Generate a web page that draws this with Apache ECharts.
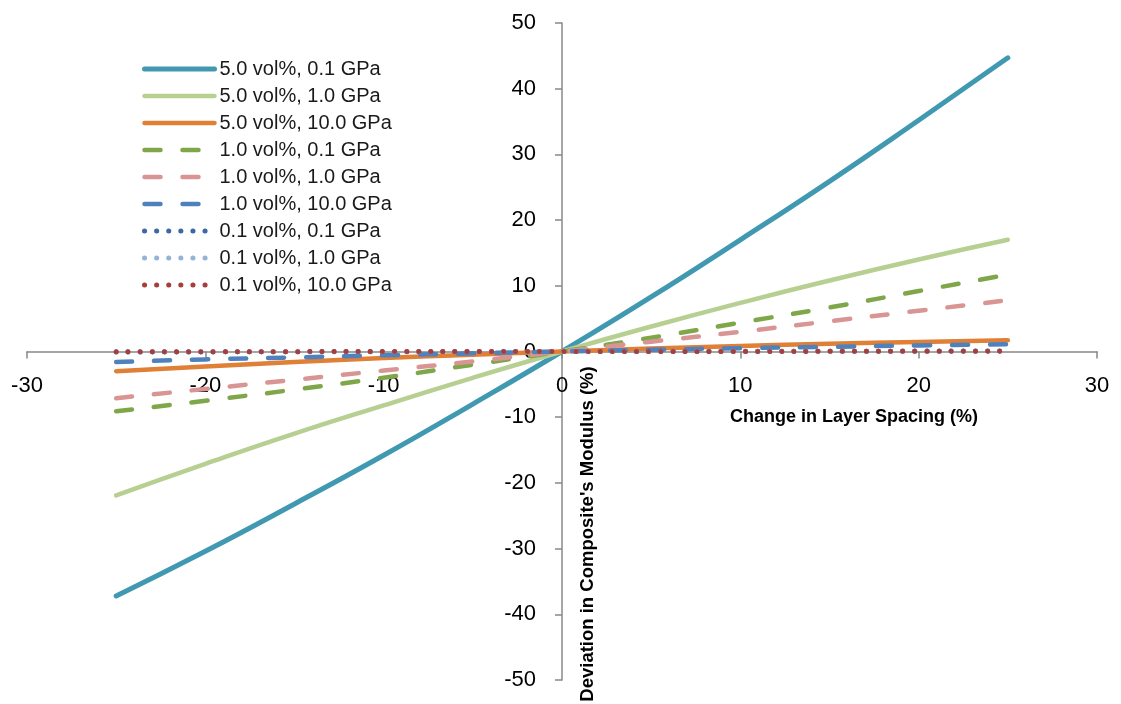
<!DOCTYPE html>
<html>
<head>
<meta charset="utf-8">
<script src="https://cdn.jsdelivr.net/npm/echarts@6/dist/echarts.min.js"></script>
<style>
html,body{margin:0;padding:0;background:#fff;}
#chart{width:1121px;height:704px;}
</style>
</head>
<body>
<div id="chart"></div>
<script>
// Data
const xValues = [-25, -20, -15, -10, -5, 0, 5, 10, 15, 20, 25];
const seriesNames = [
  '5.0 vol%, 0.1 GPa', '5.0 vol%, 1.0 GPa', '5.0 vol%, 10.0 GPa',
  '1.0 vol%, 0.1 GPa', '1.0 vol%, 1.0 GPa', '1.0 vol%, 10.0 GPa',
  '0.1 vol%, 0.1 GPa', '0.1 vol%, 1.0 GPa', '0.1 vol%, 10.0 GPa'
];
const v5_01  = [-37.2, -30.4, -23.2, -15.8, -8.0, 0, 8.3, 17.0, 25.9, 35.2, 44.7];
const v5_1   = [-21.9, -17.1, -12.5, -8.2, -4.0, 0, 3.8, 7.4, 10.8, 14.0, 17.0];
const v5_10  = [-3.0, -2.3, -1.6, -1.0, -0.5, 0, 0.44, 0.84, 1.18, 1.46, 1.7];
const v1_01  = [-9.1, -7.5, -5.8, -4.0, -2.0, 0, 2.1, 4.4, 6.7, 9.2, 11.7];
const v1_1   = [-7.1, -5.7, -4.3, -2.9, -1.5, 0, 1.5, 3.0, 4.6, 6.2, 7.8];
const v1_10  = [-1.6, -1.2, -0.9, -0.58, -0.28, 0, 0.26, 0.5, 0.72, 0.92, 1.1];
const v01_01 = [-0.08, -0.06, -0.05, -0.03, -0.02, 0, 0.02, 0.03, 0.05, 0.06, 0.08];
const v01_1  = [-0.06, -0.05, -0.04, -0.03, -0.01, 0, 0.01, 0.03, 0.04, 0.05, 0.06];
const v01_10 = [-0.04, -0.03, -0.02, -0.01, -0.01, 0, 0.01, 0.01, 0.02, 0.02, 0.03];
const xTicks = [-30, -20, -10, 0, 10, 20, 30];
const yTicks = [-50, -40, -30, -20, -10, 0, 10, 20, 30, 40, 50];
const xTitle = 'Change in Layer Spacing (%)';
const yTitle = "Deviation in Composite's Modulus (%)";

const allValues = [v5_01, v5_1, v5_10, v1_01, v1_1, v1_10, v01_01, v01_1, v01_10];
const colors = ['#4099B1', '#B8CF92', '#E07F36', '#80A64A', '#D89594', '#4F81BD', '#3C68A8', '#95B3D7', '#A63F3C'];
const styles = [
  {type: 'solid', width: 5},
  {type: 'solid', width: 4.5},
  {type: 'solid', width: 4.5},
  {type: [16, 22], width: 4.5},
  {type: [16, 22], width: 4.5},
  {type: [16, 22], width: 4.5},
  {type: [0.1, 12], width: 5},
  {type: [0.1, 12], width: 5},
  {type: [0.1, 12], width: 5}
];

const W = 1121, H = 704;
const gridL = 27, gridR = 24, gridT = 23, gridB = 24;
const plotW = W - gridL - gridR, plotH = H - gridT - gridB;
// axes cross at zero: shift the axes from the grid edge to the middle
const xAxisOffset = -plotH * (0 - yTicks[0]) / (yTicks[yTicks.length - 1] - yTicks[0]);
const yAxisOffset = -plotW * (0 - xTicks[0]) / (xTicks[xTicks.length - 1] - xTicks[0]);

const series = seriesNames.map((name, i) => ({
  name: name,
  type: 'line',
  data: xValues.map((x, j) => [x, allValues[i][j]]),
  smooth: true,
  symbol: 'none',
  showSymbol: false,
  lineStyle: {color: colors[i], width: styles[i].width, type: styles[i].type, cap: 'round', join: 'round'},
  itemStyle: {color: colors[i]},
  emphasis: {disabled: true},
  animation: false
}));

const chart = echarts.init(document.getElementById('chart'), null, {renderer: 'canvas'});
chart.setOption({
  backgroundColor: '#ffffff',
  animation: false,
  grid: {left: gridL, right: gridR, top: gridT, bottom: gridB, containLabel: false, outerBoundsMode: 'none'},
  legend: {
    orient: 'vertical',
    left: 142,
    top: 59,
    padding: 0,
    itemWidth: 70,
    itemHeight: 20,
    itemGap: 7,
    itemStyle: {opacity: 0},
    lineStyle: {width: 'inherit', type: 'inherit', cap: 'round'},
    textStyle: {fontFamily: 'Liberation Sans', fontSize: 20, color: '#1a1a1a', lineHeight: 20},
    data: seriesNames
  },
  xAxis: {
    type: 'value',
    position: 'bottom',
    offset: xAxisOffset,
    min: xTicks[0],
    max: xTicks[xTicks.length - 1],
    interval: 10,
    axisLine: {onZero: false, lineStyle: {color: '#888888', width: 1.5}},
    axisTick: {show: true, length: 7, lineStyle: {color: '#888888', width: 1.5}},
    splitLine: {show: false},
    axisLabel: {fontFamily: 'Liberation Sans', fontSize: 22, color: '#000', margin: 23}
  },
  yAxis: {
    type: 'value',
    position: 'left',
    offset: yAxisOffset,
    min: yTicks[0],
    max: yTicks[yTicks.length - 1],
    interval: 10,
    axisLine: {onZero: false, lineStyle: {color: '#888888', width: 1.5}},
    axisTick: {show: true, length: 7, lineStyle: {color: '#888888', width: 1.5}},
    splitLine: {show: false},
    axisLabel: {fontFamily: 'Liberation Sans', fontSize: 22, color: '#000', margin: 26}
  },
  graphic: [
    {type: 'text', x: 854, y: 417, style: {text: xTitle, fontFamily: 'Liberation Sans', fontWeight: 'bold', fontSize: 18, fill: '#000', align: 'center', verticalAlign: 'middle'}},
    {type: 'text', x: 588, y: 534, rotation: Math.PI / 2, style: {text: yTitle, fontFamily: 'Liberation Sans', fontWeight: 'bold', fontSize: 18.5, fill: '#000', align: 'center', verticalAlign: 'middle'}}
  ],
  series: series
});
</script>
</body>
</html>
